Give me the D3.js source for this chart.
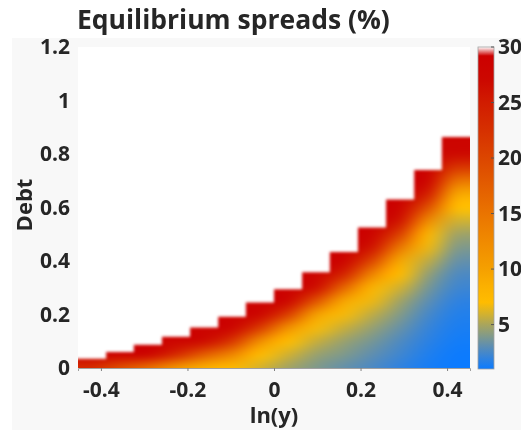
<!DOCTYPE html>
<html>
<head>
<meta charset="utf-8">
<script src="https://cdn.jsdelivr.net/npm/d3@7"></script>
<style>
  body { margin: 0; background: #fff; }
  #wrap { position: relative; width: 521px; height: 430px; }
  #wrap canvas, #wrap svg { position: absolute; left: 0; top: 0; }
  text { font-family: "Open Sans", sans-serif; font-weight: bold; fill: #262626; }
</style>
</head>
<body>
<div id="wrap"></div>
<script>
// income grid (ln y): bin edges, one default threshold per bin
var lnYEdges = [-0.453, -0.388, -0.324, -0.259, -0.194, -0.129, -0.065, 0.0,
                0.065, 0.129, 0.194, 0.259, 0.324, 0.388, 0.453];
var defaultDebt = [0.035, 0.060, 0.087, 0.117, 0.151, 0.192, 0.245,
                   0.294, 0.358, 0.434, 0.525, 0.630, 0.740, 0.864];

// debt rows of the spread table
var debtRows = [0, 0.05, 0.10, 0.15, 0.20, 0.25, 0.30, 0.35, 0.40, 0.45,
                0.50, 0.55, 0.60, 0.65, 0.70, 0.75, 0.80, 0.85, 0.90];

// spreads (%) : one row per debt level, one value per income bin
var spreads = [
  [23, 19, 15.5, 11, 8.5, 7.2, 6.0, 4.8, 3.9, 3.2, 2.6, 1.9, 1.3, 1.0],
  [28, 28, 27.7, 23.2, 17.5, 12.9, 7.1, 5.9, 4.6, 3.9, 3.1, 2.3, 1.5, 1.05],
  [28, 28, 28, 28, 26.7, 21.8, 12.1, 7, 5.7, 4.6, 3.7, 2.7, 1.8, 1.2],
  [28, 28, 28, 28, 28, 27.7, 21.2, 11.7, 6.8, 5.7, 4.5, 3.3, 2.1, 1.4],
  [28, 28, 28, 28, 28, 28, 27.5, 20.9, 10, 6.8, 5.5, 4.0, 2.5, 1.6],
  [28, 28, 28, 28, 28, 28, 28, 27.6, 18.6, 9.3, 6.6, 4.8, 3.05, 1.9],
  [28, 28, 28, 28, 28, 28, 28, 28, 26.4, 16.4, 8.0, 5.9, 3.7, 2.3],
  [28, 28, 28, 28, 28, 28, 28, 28, 28, 24.0, 13.1, 7, 4.45, 2.7],
  [28, 28, 28, 28, 28, 28, 28, 28, 28, 28, 20.0, 9.2, 5.5, 3.3],
  [28, 28, 28, 28, 28, 28, 28, 28, 28, 28, 25.8, 14.4, 6.6, 4.0],
  [28, 28, 28, 28, 28, 28, 28, 28, 28, 28, 28, 20.6, 7.9, 4.8],
  [28, 28, 28, 28, 28, 28, 28, 28, 28, 28, 28, 25.8, 12.4, 5.9],
  [28, 28, 28, 28, 28, 28, 28, 28, 28, 28, 28, 28, 18.8, 7],
  [28, 28, 28, 28, 28, 28, 28, 28, 28, 28, 28, 28, 24.7, 9.5],
  [28, 28, 28, 28, 28, 28, 28, 28, 28, 28, 28, 28, 27.9, 15.2],
  [28, 28, 28, 28, 28, 28, 28, 28, 28, 28, 28, 28, 28, 21.8],
  [28, 28, 28, 28, 28, 28, 28, 28, 28, 28, 28, 28, 28, 26.8],
  [28, 28, 28, 28, 28, 28, 28, 28, 28, 28, 28, 28, 28, 28],
  [28, 28, 28, 28, 28, 28, 28, 28, 28, 28, 28, 28, 28, 28]
];

var xTicks = [-0.4, -0.2, 0, 0.2, 0.4];
var yTicks = [0, 0.2, 0.4, 0.6, 0.8, 1, 1.2];
var cbTicks = [5, 10, 15, 20, 25, 30];

// colormap
var cmapValues = [1, 2, 3, 4, 5, 6, 7, 8.5, 10, 12.5, 15, 17.5, 20, 22.5, 25, 27, 29.2, 30];
var cmapColors = ["#0b7bff", "#3383dc", "#5b8db4", "#829a88", "#a9a55c", "#d5b22c", "#ffbc00",
                  "#fbb000", "#f5a000", "#f08a00", "#ea7400", "#e35d00", "#dc4600", "#d63000",
                  "#d11c00", "#cc0800", "#cc0000", "#ffffff"];

var W = 521, H = 430;

var x = d3.scaleLinear().domain([-0.453, 0.453]).range([78, 470]);
var y = d3.scaleLinear().domain([0, 1.2]).range([368, 47]);
var cb = d3.scaleLinear().domain([1, 30]).range([369, 47]);
var color = d3.scaleLinear().domain(cmapValues).range(cmapColors).clamp(true);

var wrap = d3.select("#wrap");

// --- canvas layer: background + heat map
var canvas = wrap.append("canvas").attr("width", W).attr("height", H).node();
var ctx = canvas.getContext("2d");
ctx.fillStyle = "#fff";
ctx.fillRect(0, 0, W, H);
ctx.fillStyle = "#f8f8f8";
ctx.fillRect(12, 38, W - 12, H - 38);
ctx.fillStyle = "#fff";
ctx.fillRect(x(-0.453), y(1.2), x(0.453) - x(-0.453), y(0) - y(1.2));

var nc = lnYEdges.length - 1, nr = debtRows.length;
var src = document.createElement("canvas");
src.width = nc; src.height = nr;
var sctx = src.getContext("2d");
var img = sctx.createImageData(nc, nr);
spreads.forEach(function(row, j) {
  row.forEach(function(v, i) {
    var c = d3.rgb(color(v));
    var k = ((nr - 1 - j) * nc + i) * 4;
    img.data[k] = c.r; img.data[k + 1] = c.g; img.data[k + 2] = c.b; img.data[k + 3] = 255;
  });
});
sctx.putImageData(img, 0, 0);

var dStep = debtRows[1] - debtRows[0];
ctx.save();
ctx.beginPath();
ctx.rect(x(-0.453), y(1.2), x(0.453) - x(-0.453), y(0) - y(1.2));
ctx.clip();
ctx.imageSmoothingEnabled = true;
ctx.imageSmoothingQuality = "high";
var yTop = y(debtRows[nr - 1] + dStep / 2), yBot = y(debtRows[0] - dStep / 2);
ctx.drawImage(src, x(lnYEdges[0]), yTop, x(lnYEdges[nc]) - x(lnYEdges[0]), yBot - yTop);
ctx.restore();

// --- svg layer
var svg = wrap.append("svg").attr("width", W).attr("height", H);
var defs = svg.append("defs");
defs.append("clipPath").attr("id", "plotclip").append("rect")
    .attr("x", x(-0.453)).attr("y", y(1.2))
    .attr("width", x(0.453) - x(-0.453)).attr("height", y(0) - y(1.2));
defs.append("filter").attr("id", "soft").attr("filterUnits", "userSpaceOnUse")
    .attr("x", 0).attr("y", 0).attr("width", W).attr("height", H)
  .append("feGaussianBlur").attr("stdDeviation", 1.4);

// default region (no price, shown white): one staircase outline
var stairs = [];
defaultDebt.forEach(function(d, i) {
  stairs.push([x(lnYEdges[i]) - (i === 0 ? 8 : 0), y(d)]);
  stairs.push([x(lnYEdges[i + 1]) + (i === nc - 1 ? 8 : 0), y(d)]);
});
stairs.push([x(0.453) + 8, y(1.2) - 8]);
stairs.push([x(-0.453) - 8, y(1.2) - 8]);

svg.append("g").attr("clip-path", "url(#plotclip)")
  .append("path")
    .attr("d", d3.line()(stairs) + "Z")
    .attr("fill", "#fff")
    .attr("filter", "url(#soft)");

// x axis
var xAxis = svg.append("g")
    .attr("transform", "translate(0," + y(0) + ")")
    .call(d3.axisBottom(x).tickValues(xTicks).tickSize(3).tickPadding(11)
      .tickFormat(function(d) { return String(d); }));
xAxis.select(".domain").attr("stroke", "#a0a0a0");
xAxis.selectAll(".tick line").attr("stroke", "#808080");
xAxis.selectAll("text").attr("fill", "#262626").style("font-size", "21px")
    .style("font-family", "Open Sans").style("font-weight", "bold");

// y axis
var yAxis = svg.append("g")
    .attr("transform", "translate(" + x(-0.453) + ",0)")
    .call(d3.axisLeft(y).tickValues(yTicks).tickSize(0).tickPadding(8)
      .tickFormat(function(d) { return String(d); }));
yAxis.select(".domain").remove();
yAxis.selectAll("text").attr("fill", "#262626").style("font-size", "21px")
    .style("font-family", "Open Sans").style("font-weight", "bold");

// titles
svg.append("text").attr("x", 77).attr("y", 29)
    .style("font-size", "26.5px").text("Equilibrium spreads (%)");
svg.append("text").attr("x", 274).attr("y", 423).attr("text-anchor", "middle")
    .style("font-size", "22px").text("ln(y)");
svg.append("text").attr("transform", "translate(32,205) rotate(-90)")
    .attr("text-anchor", "middle").style("font-size", "22px").text("Debt");

// colorbar
var grad = defs.append("linearGradient").attr("id", "cbgrad")
    .attr("x1", 0).attr("y1", 1).attr("x2", 0).attr("y2", 0);
grad.selectAll("stop").data(cmapValues).enter().append("stop")
    .attr("offset", function(d) { return (d - 1) / 29; })
    .attr("stop-color", function(d, i) { return cmapColors[i]; });

svg.append("rect").attr("x", 478).attr("y", cb(30)).attr("width", 16)
    .attr("height", cb(1) - cb(30)).attr("fill", "url(#cbgrad)")
    .attr("stroke", "#a0a0a0").attr("stroke-width", 0.8);

svg.selectAll(".cbtick").data(cbTicks).enter().append("line")
    .attr("class", "cbtick")
    .attr("x1", 491).attr("x2", 494)
    .attr("y1", function(d) { return cb(d); }).attr("y2", function(d) { return cb(d); })
    .attr("stroke", "#555").attr("stroke-width", 1);

svg.selectAll(".cblabel").data(cbTicks).enter().append("text")
    .attr("class", "cblabel")
    .attr("x", 498).attr("y", function(d) { return cb(d); })
    .attr("dy", "0.35em").style("font-size", "21px")
    .text(function(d) { return d; });
</script>
</body>
</html>
